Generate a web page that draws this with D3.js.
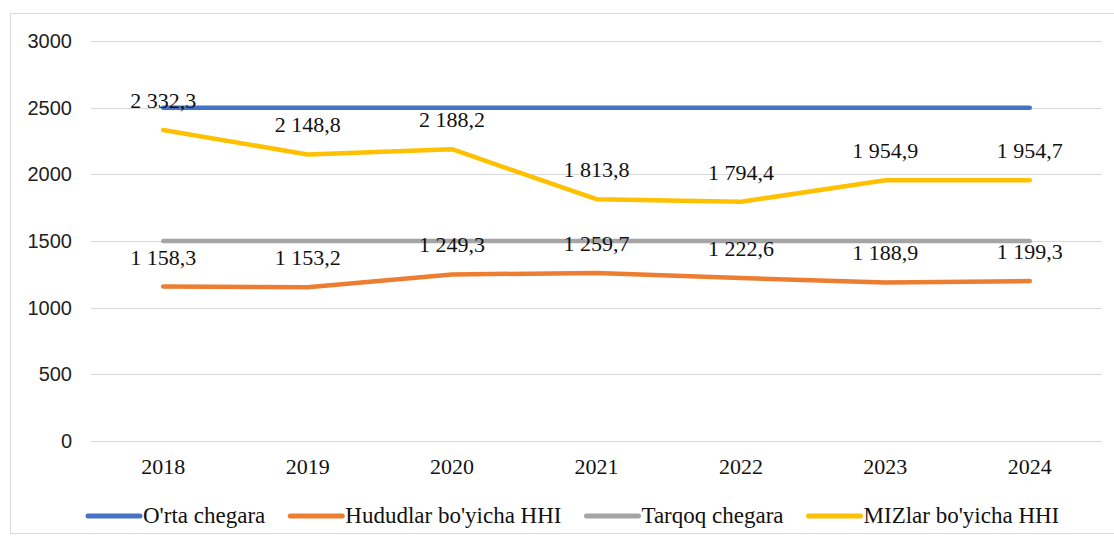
<!DOCTYPE html>
<html><head><meta charset="utf-8">
<script src="https://cdn.jsdelivr.net/npm/d3@7"></script>
<style>body{margin:0;background:#fff}</style>
</head><body>
<svg id="c" width="1114" height="539"></svg>
<script>
const years = ["2018","2019","2020","2021","2022","2023","2024"];
const ortaChegara = [2500,2500,2500,2500,2500,2500,2500];
const hududlarHHI = [1158.3,1153.2,1249.3,1259.7,1222.6,1188.9,1199.3];
const tarqoqChegara = [1500,1500,1500,1500,1500,1500,1500];
const mizlarHHI = [2332.3,2148.8,2188.2,1813.8,1794.4,1954.9,1954.7];
const yTicks = [0,500,1000,1500,2000,2500,3000];
const seriesNames = ["O'rta chegara","Hududlar bo'yicha HHI","Tarqoq chegara","MIZlar bo'yicha HHI"];
const colors = ["#4472C4","#ED7D31","#A5A5A5","#FFC000"];

const series = [
  {name: seriesNames[0], values: ortaChegara, color: colors[0], labels: false},
  {name: seriesNames[1], values: hududlarHHI, color: colors[1], labels: true},
  {name: seriesNames[2], values: tarqoqChegara, color: colors[2], labels: false},
  {name: seriesNames[3], values: mizlarHHI, color: colors[3], labels: true}
];

const svg = d3.select("#c");
svg.append("rect").attr("x",10.5).attr("y",13.5).attr("width",1110).attr("height",520)
  .attr("fill","#fff").attr("stroke","#D9D9D9").attr("stroke-width",1);

const pLeft = 91, pRight = 1102, pTop = 41, pBottom = 441;
const x = d3.scaleBand().domain(years).range([pLeft,pRight]);
const y = d3.scaleLinear().domain([0,3000]).range([pBottom,pTop]);

// gridlines
svg.append("g").selectAll("line").data(yTicks).join("line")
  .attr("x1",pLeft).attr("x2",pRight)
  .attr("y1",d=>Math.round(y(d))+0.5).attr("y2",d=>Math.round(y(d))+0.5)
  .attr("stroke","#D9D9D9").attr("stroke-width",1.2);

// y axis labels
const yAxis = d3.axisLeft(y).tickValues(yTicks).tickSize(0).tickPadding(19).tickFormat(d3.format("d"));
const gy = svg.append("g").attr("transform",`translate(${pLeft},0)`).call(yAxis);
gy.select(".domain").remove();
gy.selectAll("text").attr("font-family","'Liberation Sans', Arial, sans-serif").attr("font-size",20).attr("fill","#222");

// x axis labels
const xAxis = d3.axisBottom(x).tickSize(0).tickPadding(17);
const gx = svg.append("g").attr("transform",`translate(0,${pBottom})`).call(xAxis);
gx.select(".domain").remove();
gx.selectAll("text").attr("font-family","'Liberation Serif', 'Times New Roman', serif").attr("font-size",22).attr("fill","#111");

const cx = d => x(d) + x.bandwidth()/2;
const line = d3.line().x((d,i)=>cx(years[i])).y(d=>y(d));

series.forEach(s=>{
  svg.append("path").datum(s.values).attr("d",line)
    .attr("fill","none").attr("stroke",s.color).attr("stroke-width",4.5)
    .attr("stroke-linejoin","round").attr("stroke-linecap","round");
});

const fmt = v => {
  const parts = v.toFixed(1).split(".");
  const int = parts[0].replace(/\B(?=(\d{3})+(?!\d))/g," ");
  return int + "," + parts[1];
};

series.filter(s=>s.labels).forEach(s=>{
  svg.append("g").selectAll("text").data(s.values).join("text")
    .attr("x",(d,i)=>cx(years[i])).attr("y",d=>y(d)-22)
    .attr("text-anchor","middle")
    .attr("font-family","'Liberation Serif', 'Times New Roman', serif").attr("font-size",22).attr("fill","#111")
    .text(d=>fmt(d));
});

// legend
const lg = svg.append("g");
let lx = 88; const ly = 516;
series.forEach(s=>{
  lg.append("line").attr("x1",lx).attr("x2",lx+52).attr("y1",ly).attr("y2",ly)
    .attr("stroke",s.color).attr("stroke-width",5).attr("stroke-linecap","round");
  const t = lg.append("text").attr("x",lx+55).attr("y",ly+7)
    .attr("font-family","'Liberation Serif', 'Times New Roman', serif").attr("font-size",23).attr("fill","#111")
    .text(s.name);
  lx += 55 + t.node().getComputedTextLength() + 25;
});
</script>
</body></html>
